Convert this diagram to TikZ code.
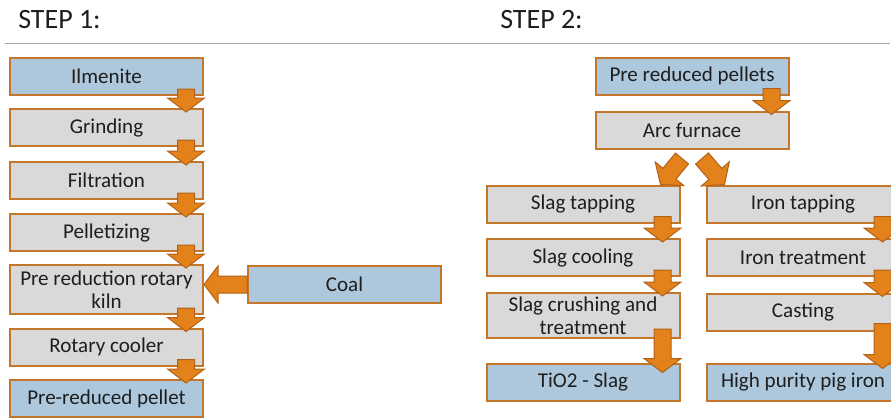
\documentclass[tikz,border=0pt]{standalone}
\usepackage{fontspec}
\setmainfont{Carlito}
\usetikzlibrary{calc}

\newlength{\du}
\setlength{\du}{0.75pt}

\definecolor{boxblue}{RGB}{173,200,221}
\definecolor{boxgray}{RGB}{217,217,217}
\definecolor{boxline}{RGB}{196,118,42}
\definecolor{arrowfill}{RGB}{227,130,26}
\definecolor{arrowline}{RGB}{178,98,24}
\definecolor{ruleline}{RGB}{166,166,166}
\definecolor{textdark}{RGB}{30,30,30}

\tikzset{
  stepbox/.style={draw=boxline, line width=2\du, minimum width=193\du,
    minimum height=37\du, inner sep=0pt, align=center, text=textdark,
    font=\fontsize{15.8}{17.5}\selectfont},
  rawbox/.style={stepbox, fill=boxblue},
  procbox/.style={stepbox, fill=boxgray},
  heading/.style={anchor=west, inner sep=0pt, text=textdark,
    font=\fontsize{21}{25}\selectfont},
  blockarrow/.style={draw=arrowline, fill=arrowfill, line width=1\du, line join=miter}
}

% fat arrow from #1 to #2 (tip at #2)
\newcommand{\blockarrow}[2]{%
  \coordinate (hb) at ($(#2)!14\du!(#1)$);
  \draw[blockarrow] ($(#1)!8.5\du!90:(#2)$) -- ($(hb)!8.5\du!90:(#2)$)
    -- ($(hb)!18.5\du!90:(#2)$) -- (#2) -- ($(hb)!18.5\du!-90:(#2)$)
    -- ($(hb)!8.5\du!-90:(#2)$) -- ($(#1)!8.5\du!-90:(#2)$) -- cycle;}

\begin{document}
\begin{tikzpicture}[yscale=-1]
\useasboundingbox (0,0) rectangle (891\du,419\du);
\clip (0,0) rectangle (891\du,419\du);

\node[heading] (step1) at (18\du,20\du) {STEP 1:};
\node[heading] (step2) at (500\du,20\du) {STEP 2:};
\draw[ruleline, line width=1\du] (5\du,43\du) -- (890\du,43\du);

% step 1
\node[rawbox] (ilm) at (106.5\du,76.5\du) {Ilmenite};
\node[procbox] (grd) at (106.5\du,127.5\du) {Grinding};
\node[procbox] (fil) at (106.5\du,180.5\du) {Filtration};
\node[procbox] (pel) at (106.5\du,232.5\du) {Pelletizing};
\node[procbox, minimum height=49\du] (kiln) at (106.5\du,289.5\du) {Pre reduction rotary\\kiln};
\node[procbox] (cool) at (106.5\du,347\du) {Rotary cooler};
\node[rawbox] (prp) at (106.5\du,398.5\du) {Pre-reduced pellet};
\node[rawbox] (coal) at (344.5\du,284.5\du) {Coal};

% step 2
\node[rawbox] (rpp) at (692\du,76\du) {Pre reduced pellets};
\node[procbox] (arc) at (692\du,130\du) {Arc furnace};
\node[procbox] (stap) at (583\du,204\du) {Slag tapping};
\node[procbox] (scool) at (583\du,257.5\du) {Slag cooling};
\node[procbox, minimum height=45\du] (scrush) at (583\du,315.5\du) {Slag crushing and\\treatment};
\node[rawbox] (tio) at (583\du,382\du) {TiO2 - Slag};
\node[procbox] (itap) at (803\du,204\du) {Iron tapping};
\node[procbox] (itreat) at (803\du,257.5\du) {Iron treatment};
\node[procbox] (cast) at (803\du,312\du) {Casting};
\node[rawbox] (hpi) at (803\du,382\du) {High purity pig iron};

\foreach \a/\b in {ilm/grd, grd/fil, fil/pel, pel/kiln, kiln/cool, cool/prp,
    rpp/arc, stap/scool, scool/scrush, itap/itreat, itreat/cast}{
  \coordinate (\a-o) at ($(\a.south east)+(-18\du,-7\du)$);
  \coordinate (\b-i) at ($(\b.north east)+(-18\du,4\du)$);
  \blockarrow{\a-o}{\b-i}
}

\coordinate (scrush-o) at ($(scrush.south east)+(-18\du,-10\du)$);
\coordinate (tio-i) at ($(tio.north east)+(-18\du,10\du)$);
\blockarrow{scrush-o}{tio-i}
\coordinate (cast-o) at ($(cast.south east)+(-18\du,-8\du)$);
\coordinate (hpi-i) at ($(hpi.north east)+(-18\du,6\du)$);
\blockarrow{cast-o}{hpi-i}

\coordinate (kiln-e) at (kiln.east |- coal.west);
\blockarrow{coal.west}{kiln-e}

\coordinate (arc-l) at ($(arc.south)+(-10\du,9\du)$);
\coordinate (stap-i) at ($(stap.north east)+(-20\du,0\du)$);
\blockarrow{arc-l}{stap-i}
\coordinate (arc-r) at ($(arc.south)+(10\du,9\du)$);
\coordinate (itap-i) at ($(itap.north west)+(19\du,0\du)$);
\blockarrow{arc-r}{itap-i}
\end{tikzpicture}
\end{document}
